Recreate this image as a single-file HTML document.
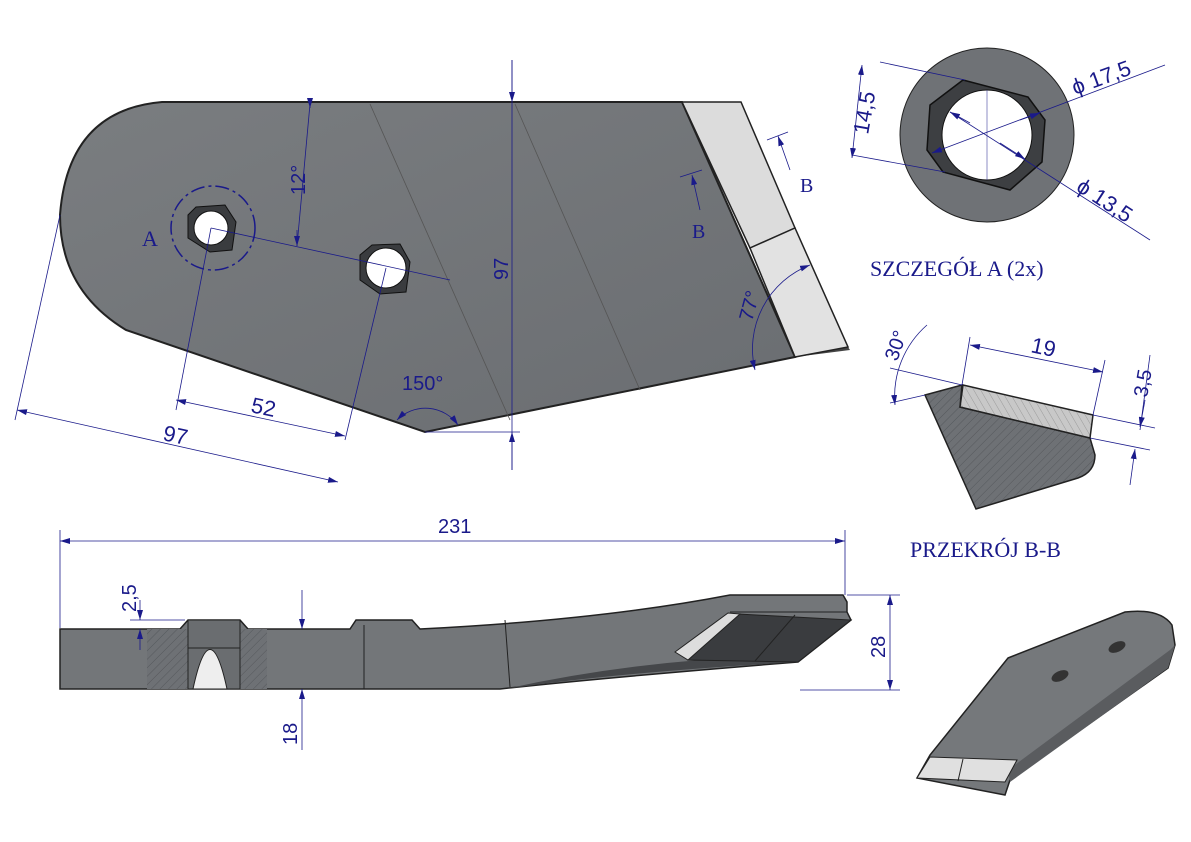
<!DOCTYPE html>
<html><head><meta charset="utf-8"><style>
html,body{margin:0;padding:0;background:#fff;}
svg{display:block;}
text{font-family:"Liberation Sans",sans-serif;fill:#1a1a8a;}
.serif{font-family:"Liberation Serif",serif;}
</style></head><body>
<svg width="1191" height="842" viewBox="0 0 1191 842" xmlns="http://www.w3.org/2000/svg">
<defs>
<linearGradient id="pl" x1="0" y1="0" x2="1" y2="1"><stop offset="0" stop-color="#7a7d80"/><stop offset="1" stop-color="#6a6d71"/></linearGradient>
<pattern id="hat" width="6" height="6" patternUnits="userSpaceOnUse" patternTransform="rotate(45)"><rect width="6" height="6" fill="#6e7175"/><line x1="0" y1="0" x2="0" y2="6" stroke="#55585c" stroke-width="1"/></pattern>
<pattern id="hat2" width="6" height="6" patternUnits="userSpaceOnUse" patternTransform="rotate(-30)"><rect width="6" height="6" fill="#c8c8c8"/><line x1="0" y1="0" x2="0" y2="6" stroke="#9a9a9a" stroke-width="1"/></pattern>
<marker id="ar" markerWidth="10" markerHeight="6" refX="10" refY="3" orient="auto-start-reverse" markerUnits="userSpaceOnUse"><path d="M0,0 L10,3 L0,6z" fill="#1a1a8a"/></marker>
</defs>

<!-- main plate -->
<path d="M162,102 L682,102 L795,357 L425,432 L126,330 Q60,290 60,215 Q68,110 162,102Z" fill="url(#pl)" stroke="#222" stroke-width="2"/>
<path d="M795,357 L850,350 L848,347 L795,352Z" fill="#444"/>
<line x1="370" y1="104" x2="510" y2="420" stroke="#555" stroke-width="0.8"/>
<line x1="515" y1="104" x2="640" y2="390" stroke="#555" stroke-width="0.8"/>
<!-- cutters -->
<path d="M682,102 L741,102 L795,228 L750,248Z" fill="#dcdcdc" stroke="#222" stroke-width="1.5"/>
<path d="M750,248 L795,228 L848,347 L795,357Z" fill="#e2e2e2" stroke="#222" stroke-width="1.5"/>
<!-- holes -->
<path d="M196,207 L225,205 L236,222 L232,250 L210,252 L188,238 L188,215Z" fill="#3a3c3f" stroke="#111"/>
<circle cx="211" cy="228" r="17" fill="#fff" stroke="#111"/>
<path d="M372,245 L400,244 L410,262 L406,292 L380,294 L360,280 L360,255Z" fill="#3a3c3f" stroke="#111"/>
<circle cx="386" cy="268" r="20" fill="#fff" stroke="#111"/>
<circle cx="213" cy="228" r="42" fill="none" stroke="#1a1a8a" stroke-width="1.5" stroke-dasharray="14,4,3,4"/>
<text x="142" y="246" class="serif" font-size="22">A</text>
<!-- dims main -->
<g stroke="#1a1a8a" stroke-width="0.8" fill="none">
<line x1="512" y1="60" x2="512" y2="470"/>
<line x1="512" y1="60" x2="512" y2="102" marker-end="url(#ar)"/>
<line x1="512" y1="470" x2="512" y2="432" marker-end="url(#ar)"/>
<line x1="425" y1="432" x2="520" y2="432"/>
<line x1="211" y1="228" x2="450" y2="280"/>
<line x1="310" y1="104" x2="297" y2="246"/>
<line x1="310" y1="104" x2="310" y2="108" marker-end="url(#ar)"/>
<line x1="297" y1="230" x2="297" y2="246" marker-end="url(#ar)"/>
<line x1="211" y1="228" x2="176" y2="410"/>
<line x1="386" y1="268" x2="345" y2="440"/>
<line x1="60" y1="215" x2="15" y2="420"/>
<line x1="176" y1="400" x2="345" y2="436" marker-start="url(#ar)" marker-end="url(#ar)"/>
<line x1="17" y1="410" x2="338" y2="482" marker-start="url(#ar)" marker-end="url(#ar)"/>
<path d="M397,420 A40,40 0 0 1 458,425" marker-start="url(#ar)" marker-end="url(#ar)"/>
<path d="M755,370 A90,90 0 0 1 810,265" marker-start="url(#ar)" marker-end="url(#ar)"/>
<line x1="680" y1="177" x2="702" y2="170"/><line x1="692" y1="175" x2="700" y2="210" marker-start="url(#ar)"/>
<line x1="767" y1="140" x2="788" y2="132"/><line x1="778" y1="136" x2="790" y2="170" marker-start="url(#ar)"/>
</g>
<text x="0" y="0" font-size="20" transform="translate(508,280) rotate(-90)">97</text>
<text x="0" y="0" font-size="20" transform="translate(305,195) rotate(-90)">12°</text>
<text x="402" y="390" font-size="20">150°</text>
<text x="0" y="0" font-size="20" transform="translate(752,322) rotate(-75)">77°</text>
<text x="0" y="0" font-size="22" transform="translate(250,412) rotate(12)">52</text>
<text x="0" y="0" font-size="22" transform="translate(162,440) rotate(12)">97</text>
<text x="692" y="238" class="serif" font-size="20">B</text>
<text x="800" y="192" class="serif" font-size="20">B</text>

<!-- detail A -->
<circle cx="987" cy="135" r="87" fill="#6f7276" stroke="#222"/>
<path d="M963,80 L1028,97 L1045,120 L1042,162 L1010,190 L943,172 L927,150 L930,105Z" fill="#3d3f42" stroke="#111" stroke-width="1.5"/>
<circle cx="987" cy="135" r="45" fill="#fff" stroke="#111"/>
<g stroke="#1a1a8a" stroke-width="0.8" fill="none">
<line x1="880" y1="62" x2="965" y2="80"/><line x1="852" y1="155" x2="945" y2="172"/>
<line x1="862" y1="65" x2="852" y2="158" marker-start="url(#ar)" marker-end="url(#ar)"/>
<line x1="932" y1="153" x2="1165" y2="65"/>
<line x1="1020" y1="120" x2="1040" y2="113" marker-end="url(#ar)"/>
<line x1="932" y1="153" x2="945" y2="148" marker-start="url(#ar)"/>
<line x1="950" y1="112" x2="1150" y2="240"/>
<line x1="1000" y1="143" x2="1025" y2="159" marker-end="url(#ar)"/>
<line x1="970" y1="123" x2="950" y2="112" marker-end="url(#ar)"/>
<line x1="987" y1="90" x2="987" y2="180" stroke-width="0.5"/>
</g>
<text x="0" y="0" font-size="22" transform="translate(1075,95) rotate(-20)">ϕ 17,5</text>
<text x="0" y="0" font-size="22" transform="translate(1075,190) rotate(33)">ϕ 13,5</text>
<text x="0" y="0" font-size="22" transform="translate(868,135) rotate(-80)">14,5</text>
<text x="870" y="276" class="serif" font-size="22">SZCZEGÓŁ A (2x)</text>

<!-- section B-B -->
<path d="M925,395 L962,385 L960,407 L1090,438 L1095,455 Q1095,472 1078,478 L976,509Z" fill="url(#hat)" stroke="#222" stroke-width="1.5"/>
<path d="M963,385 L1093,415 L1090,438 L960,407Z" fill="url(#hat2)" stroke="#222" stroke-width="1.5"/>
<g stroke="#1a1a8a" stroke-width="0.8" fill="none">
<line x1="970" y1="337" x2="962" y2="385"/><line x1="1105" y1="360" x2="1093" y2="415"/>
<line x1="970" y1="345" x2="1103" y2="372" marker-start="url(#ar)" marker-end="url(#ar)"/>
<line x1="890" y1="368" x2="962" y2="385"/><line x1="890" y1="403" x2="925" y2="395"/>
<path d="M895,405 A95,95 0 0 1 927,325" marker-start="url(#ar)"/>
<line x1="1093" y1="415" x2="1155" y2="428"/><line x1="1090" y1="438" x2="1150" y2="450"/>
<line x1="1150" y1="355" x2="1140" y2="430"/>
<line x1="1145" y1="400" x2="1140" y2="427" marker-end="url(#ar)"/>
<line x1="1130" y1="485" x2="1135" y2="449" marker-end="url(#ar)"/>
</g>
<text x="0" y="0" font-size="20" transform="translate(897,362) rotate(-70)">30°</text>
<text x="0" y="0" font-size="22" transform="translate(1030,352) rotate(12)">19</text>
<text x="0" y="0" font-size="20" transform="translate(1147,398) rotate(-80)">3,5</text>
<text x="910" y="557" class="serif" font-size="22">PRZEKRÓJ B-B</text>

<!-- side view -->
<path d="M60,629 L180,629 L188,620 L240,620 L248,629 L350,629 L356,620 L412,620 L420,629 Q600,620 730,595 L843,595 L847,602 L847,612 L851,620 L798,662 Q600,678 500,689 L60,689Z" fill="#737679" stroke="#222" stroke-width="1.5"/>
<path d="M505,689 Q620,672 798,662 L700,660 Q600,668 505,689Z" fill="#45474a"/>
<rect x="147" y="629" width="120" height="60" fill="url(#hat)"/>
<path d="M188,620 L240,620 L240,689 L188,689Z" fill="#6a6d70" stroke="#222"/>
<path d="M193,689 Q210,610 227,689Z" fill="#eee" stroke="#222"/>
<line x1="188" y1="648" x2="240" y2="648" stroke="#222"/>
<line x1="364" y1="625" x2="364" y2="689" stroke="#222"/>
<line x1="505" y1="620" x2="510" y2="687" stroke="#222"/>
<path d="M730,612 L847,612" stroke="#222"/>
<path d="M738,614 L851,620 L798,662 L688,660Z" fill="#3a3c3f" stroke="#222"/>
<line x1="795" y1="615" x2="755" y2="661" stroke="#222"/>
<path d="M675,652 L728,613 L740,614 L688,660Z" fill="#ddd" stroke="#222"/>
<g stroke="#1a1a8a" stroke-width="0.8" fill="none">
<line x1="60" y1="530" x2="60" y2="628"/><line x1="845" y1="530" x2="845" y2="595"/>
<line x1="60" y1="541" x2="845" y2="541" marker-start="url(#ar)" marker-end="url(#ar)"/>
<line x1="847" y1="595" x2="900" y2="595"/><line x1="800" y1="690" x2="900" y2="690"/>
<line x1="890" y1="595" x2="890" y2="690" marker-start="url(#ar)" marker-end="url(#ar)"/>
<line x1="302" y1="590" x2="302" y2="629" marker-end="url(#ar)"/>
<line x1="302" y1="750" x2="302" y2="689" marker-end="url(#ar)"/>
<line x1="130" y1="620" x2="185" y2="620"/>
<line x1="140" y1="600" x2="140" y2="620" marker-end="url(#ar)"/>
<line x1="140" y1="650" x2="140" y2="629" marker-end="url(#ar)"/>
</g>
<text x="438" y="533" font-size="20">231</text>
<text x="0" y="0" font-size="20" transform="translate(885,658) rotate(-90)">28</text>
<text x="0" y="0" font-size="20" transform="translate(297,745) rotate(-90)">18</text>
<text x="0" y="0" font-size="20" transform="translate(136,612) rotate(-90)">2,5</text>

<!-- iso view -->
<path d="M1008,658 L1125,612 Q1160,608 1172,625 L1175,645 L1168,668 L1010,780 L1005,795 L917,778 L930,755Z" fill="#75787b" stroke="#222" stroke-width="1.5"/>
<path d="M1175,645 L1168,668 L1010,782 L1008,770 L1170,650Z" fill="#5a5c5f"/>
<path d="M917,778 L930,757 L1017,760 L1005,782Z" fill="#e0e0e0" stroke="#222"/>
<line x1="963" y1="759" x2="958" y2="781" stroke="#222"/>
<ellipse cx="1060" cy="676" rx="9" ry="5" fill="#333" transform="rotate(-25 1060 676)"/>
<ellipse cx="1117" cy="647" rx="9" ry="5" fill="#333" transform="rotate(-25 1117 647)"/>
</svg>
</body></html>
